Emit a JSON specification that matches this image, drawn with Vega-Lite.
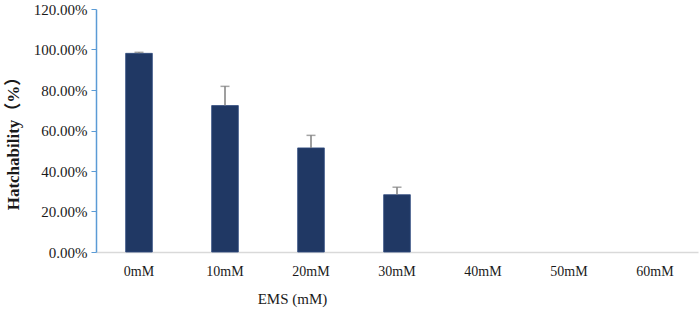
{
  "$schema": "https://vega.github.io/schema/vega-lite/v6.json",
  "width": 602,
  "height": 243,
  "autosize": {"type": "none"},
  "padding": {"left": 96, "top": 9, "right": 1, "bottom": 67},
  "background": "white",
  "config": {"view": {"stroke": null}, "font": "Liberation Serif"},
  "data": {
    "values": [
      {"dose": "0mM", "value": 0.981, "upper": 0.986},
      {"dose": "10mM", "value": 0.723, "upper": 0.818},
      {"dose": "20mM", "value": 0.514, "upper": 0.576},
      {"dose": "30mM", "value": 0.283, "upper": 0.320},
      {"dose": "40mM", "value": 0, "upper": null},
      {"dose": "50mM", "value": 0, "upper": null},
      {"dose": "60mM", "value": 0, "upper": null}
    ]
  },
  "encoding": {
    "x": {
      "field": "dose",
      "type": "nominal",
      "sort": null,
      "scale": {
        "domain": ["0mM", "10mM", "20mM", "30mM", "40mM", "50mM", "60mM"],
        "paddingInner": 0.69,
        "paddingOuter": 0.345
      },
      "axis": {
        "title": "EMS (mM)",
        "labelAngle": 0,
        "labelFont": "Liberation Serif",
        "labelFontSize": 14,
        "labelColor": "#1a1a1a",
        "labelPadding": 12,
        "ticks": false,
        "domainColor": "#D9D9D9",
        "domainWidth": 1.5,
        "titleFont": "Liberation Serif",
        "titleFontSize": 15,
        "titleFontWeight": "normal",
        "titleColor": "#1a1a1a",
        "titleX": 196,
        "titleY": 46,
        "titleAlign": "center",
        "titleBaseline": "middle"
      }
    }
  },
  "layer": [
    {
      "transform": [{"filter": "datum.value > 0"}],
      "mark": {"type": "bar", "color": "#203864", "stroke": "#2E4A7E", "strokeWidth": 0.8},
      "encoding": {
        "y": {
          "field": "value",
          "type": "quantitative",
          "scale": {"domain": [0, 1.2], "nice": false},
          "axis": {
            "values": [0, 0.2, 0.4, 0.6, 0.8, 1.0, 1.2],
            "format": ".2%",
            "grid": false,
            "labelFont": "Liberation Serif",
            "labelFontSize": 15,
            "labelColor": "#1a1a1a",
            "labelPadding": 4,
            "tickSize": 5,
            "tickColor": "#5B9BD5",
            "domainColor": "#5B9BD5",
            "domainWidth": 1.5,
            "title": "Hatchability（%）",
            "titleFont": "Liberation Serif, Noto Sans CJK SC",
            "titleFontSize": 17,
            "titleFontWeight": "bold",
            "titleColor": "#1a1a1a",
            "titleX": -83,
            "titleY": 130,
            "titleAlign": "center",
            "titleBaseline": "middle",
            "titleAngle": -90
          }
        }
      }
    },
    {
      "transform": [{"filter": "datum.upper != null"}],
      "mark": {"type": "rule", "color": "#7F7F7F", "strokeWidth": 1.5},
      "encoding": {
        "y": {"field": "value", "type": "quantitative"},
        "y2": {"field": "upper"}
      }
    },
    {
      "transform": [{"filter": "datum.upper != null"}],
      "mark": {"type": "tick", "color": "#7F7F7F", "thickness": 1.5, "size": 9},
      "encoding": {
        "y": {"field": "upper", "type": "quantitative"}
      }
    }
  ]
}
